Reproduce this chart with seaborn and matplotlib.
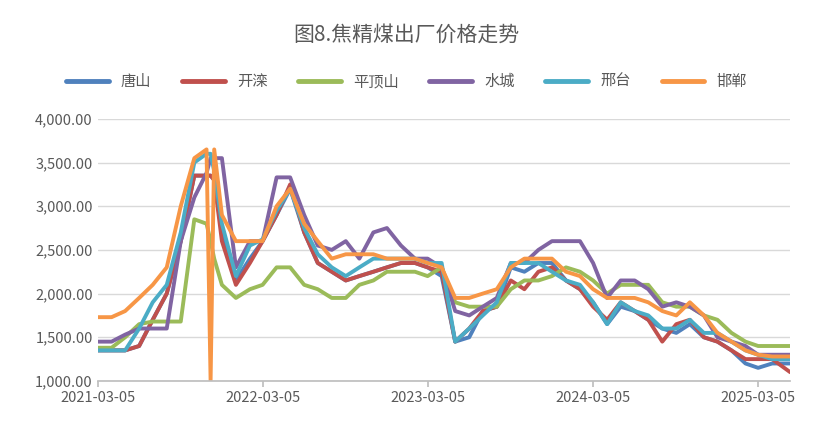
import matplotlib
matplotlib.use("Agg")
import matplotlib.pyplot as plt
import matplotlib.dates as mdates
import matplotlib.ticker as mticker
import seaborn as sns
import pandas as pd

sns.set_theme(style="white")
plt.rcParams['font.family'] = ['Noto Sans CJK SC', 'DejaVu Sans']

dates = ["2021-03-05","2021-04-05","2021-05-05","2021-06-05","2021-07-05","2021-08-05","2021-09-05",
         "2021-10-05","2021-11-01","2021-11-10","2021-11-18","2021-12-05",
         "2022-01-05","2022-02-05","2022-03-05","2022-04-05","2022-05-05","2022-06-05","2022-07-05",
         "2022-08-05","2022-09-05","2022-10-05","2022-11-05","2022-12-05",
         "2023-01-05","2023-02-05","2023-03-05","2023-04-05","2023-05-05","2023-06-05","2023-07-05",
         "2023-08-05","2023-09-05","2023-10-05","2023-11-05","2023-12-05",
         "2024-01-05","2024-02-05","2024-03-05","2024-04-05","2024-05-05","2024-06-05","2024-07-05",
         "2024-08-05","2024-09-05","2024-10-05","2024-11-05","2024-12-05",
         "2025-01-05","2025-02-05","2025-03-05","2025-04-05","2025-05-15"]

tangshan = [1350,1350,1350,1400,1700,2000,2600,3350,3350,3350,3300,2700,
            2150,2400,2600,2900,3200,2700,2350,2250,2150,2200,2250,2300,
            2350,2350,2300,2200,1450,1500,1800,1850,2300,2250,2350,2350,
            2150,2050,1900,1650,1850,1800,1700,1600,1550,1650,1500,1450,
            1350,1200,1150,1200,1200]
kailuan = [1350,1350,1350,1400,1700,2000,2600,3350,3350,3350,3300,2600,
           2100,2350,2600,2900,3250,2700,2350,2250,2150,2200,2250,2300,
           2350,2350,2300,2250,1450,1600,1800,1850,2150,2050,2250,2300,
           2150,2050,1850,1700,1900,1800,1700,1450,1650,1700,1500,1450,
           1350,1250,1250,1250,1100]
pingdingshan = [1380,1380,1500,1650,1680,1680,1680,2850,2800,2600,2400,2100,
                1950,2050,2100,2300,2300,2100,2050,1950,1950,2100,2150,2250,
                2250,2250,2200,2300,1900,1850,1850,1850,2050,2150,2150,2200,
                2300,2250,2150,2000,2100,2100,2100,1900,1850,1850,1750,1700,
                1550,1450,1400,1400,1400]
shuicheng = [1450,1450,1530,1600,1600,1600,2600,3100,3380,3550,3550,3550,
             2300,2600,2600,3330,3330,2900,2550,2500,2600,2400,2700,2750,
             2550,2400,2400,2300,1800,1750,1850,1950,2350,2350,2500,2600,
             2600,2600,2350,1950,2150,2150,2050,1850,1900,1850,1750,1500,
             1450,1400,1300,1300,1300]
xingtai = [1350,1350,1350,1600,1900,2100,2700,3500,3600,3600,3400,2800,
           2200,2550,2620,2950,3200,2750,2450,2300,2200,2300,2400,2400,
           2400,2400,2350,2350,1450,1600,1750,1900,2350,2350,2350,2250,
           2150,2100,1900,1650,1900,1800,1750,1600,1600,1700,1550,1550,
           1450,1350,1300,1250,1250]
handan = [1730,1730,1800,1950,2100,2300,3000,3550,3650,1000,3650,2900,
          2600,2600,2600,3000,3200,2800,2600,2400,2450,2450,2450,2400,
          2400,2400,2350,2300,1950,1950,2000,2050,2300,2400,2400,2400,
          2250,2200,2050,1950,1950,1950,1900,1800,1750,1900,1750,1550,
          1450,1350,1300,1280,1280]

names = ["唐山","开滦","平顶山","水城","邢台","邯郸"]
series = [tangshan, kailuan, pingdingshan, shuicheng, xingtai, handan]
colors = ["#4F81BD","#C0504D","#9BBB59","#8064A2","#4BACC6","#F79646"]

rows = []
for n, s in zip(names, series):
    for d, v in zip(dates, s):
        rows.append({"date": pd.Timestamp(d), "name": n, "price": v})
df = pd.DataFrame(rows)

fig = plt.figure(figsize=(8.13, 4.29), dpi=100)
ax = fig.add_axes([0.12, 0.112, 0.852, 0.611])
sns.lineplot(data=df, x="date", y="price", hue="name", hue_order=names,
             palette=colors, linewidth=2.8, ax=ax, legend=False)

ax.set_ylim(1000, 4000)
ax.set_xlim(pd.Timestamp("2021-03-05"), pd.Timestamp("2025-05-15"))
ax.yaxis.set_major_locator(mticker.MultipleLocator(500))
ax.yaxis.set_major_formatter(mticker.FuncFormatter(lambda v, p: f"{v:,.2f}"))
ticks = [pd.Timestamp(t) for t in ["2021-03-05","2022-03-05","2023-03-05","2024-03-05","2025-03-05"]]
ax.set_xticks(ticks)
ax.xaxis.set_major_formatter(mdates.DateFormatter("%Y-%m-%d"))
ax.grid(axis="y", color="#d9d9d9", linewidth=1)
for s in ["top","right","left"]:
    ax.spines[s].set_visible(False)
ax.spines["bottom"].set_color("#bfbfbf")
ax.tick_params(axis="x", length=4, color="#bfbfbf", labelsize=10.5, labelcolor="#595959", direction="out", bottom=True)
ax.tick_params(axis="y", length=0, labelsize=10.5, labelcolor="#595959")
ax.set_xlabel("")
ax.set_ylabel("")

fig.text(0.5, 0.92, "图8.焦精煤出厂价格走势", ha="center", va="center", fontsize=15, color="#595959")
handles = [plt.Line2D([], [], color=c, linewidth=3.5) for c in colors]
fig.legend(handles, names, loc="center", bbox_to_anchor=(0.5, 0.81), ncol=6, frameon=False,
           fontsize=11, handlelength=2.8, columnspacing=2.0, labelcolor="#595959")

fig.savefig("out.png", dpi=100)
